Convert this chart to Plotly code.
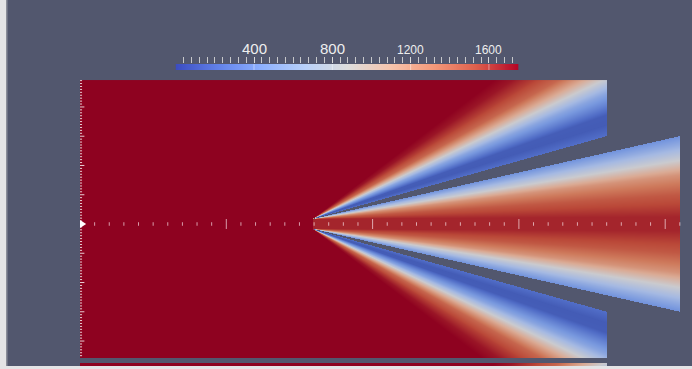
import numpy as np
import plotly.graph_objects as go

# ---------------------------------------------------------------------------
# Geometry of the mixing section (length units)
# ---------------------------------------------------------------------------
X_LEFT = 0.0          # inlet plane
X_SPLIT = 15.9        # trailing edge of the splitter plates
SLOT_HALF = 0.34      # half height of the central slot at the trailing edge
X_BLOCK_END = 36.0    # outlet of the outer channels
X_JET_END = 41.0      # outlet of the central diffuser
WALL_END_HALF = 6.0   # |y| of the outer-channel inner wall at X_BLOCK_END
JET_END_HALF = 6.0    # |y| of the diffuser wall at X_JET_END
Y_TOP = 9.84
Y_BOTTOM = -9.16
STRIP = (-9.71, -9.535)   # edge of the mirrored copy below the domain

# ---------------------------------------------------------------------------
# Temperature data
# ---------------------------------------------------------------------------
T_MIN, T_MAX = 0, 1750
T_HOT = 1750
# outer channels: profile across the thermal layer growing from the splitter wall
BLOCK_ETA = [0.0, 0.08, 0.15, 0.22, 0.30, 0.40, 0.48, 0.59, 0.72, 0.86, 1.0]
BLOCK_T = [230, 140, 150, 330, 520, 850, 1100, 1400, 1560, 1690, 1750]
BLOCK_SPREAD = 0.48
# central diffuser: profile from the wall towards the core
JET_ETA = [0.0, 0.12, 0.33, 0.53, 0.80, 1.10]
JET_T = [400, 560, 875, 1200, 1460, 1640]
JET_SPREAD = 0.20

# colour bar ticks and labels
CB_MAJOR = [400, 800, 1200, 1600]
CB_LABELS = ["400", "800", "1200", "1600"]
CB_LABEL_SIZE = [15, 15, 12, 12]
CB_MINOR = list(range(40, 1721, 40))

# ruler ticks
X_RULER_MINOR = list(range(1, 42))
X_RULER_MAJOR = [10, 20, 30, 40]
Y_RULER_MINOR = [round(v, 1) for v in np.arange(-9.0, 9.81, 0.2)]
Y_RULER_MAJOR = [-8, -6, -4, -2, 2, 4, 6, 8]

# colour maps: Cool to Warm, and its shaded version on the surface
COOL_WARM = [
    (0.0, (59, 76, 192)), (0.125, (98, 130, 234)), (0.25, (141, 176, 254)),
    (0.375, (184, 208, 249)), (0.5, (221, 221, 221)), (0.625, (245, 196, 173)),
    (0.75, (244, 154, 123)), (0.875, (222, 96, 77)), (1.0, (180, 4, 38)),
]
COOL_WARM_LIT = [
    (0.0, (45, 62, 152)), (0.125, (80, 108, 198)), (0.25, (120, 152, 222)),
    (0.375, (165, 185, 226)), (0.5, (202, 202, 206)), (0.625, (218, 170, 148)),
    (0.75, (206, 122, 92)), (0.875, (186, 72, 56)), (1.0, (142, 2, 32)),
]


def scale(stops):
    return [[t, "rgb(%d,%d,%d)" % c] for t, c in stops]


# ---------------------------------------------------------------------------
# Field evaluation
# ---------------------------------------------------------------------------
PX = 14.63            # screen pixels per length unit
du = 1.0 / PX


def temperature(X, Y):
    A = np.abs(Y)
    s = np.clip(X - X_SPLIT, 0, None)
    wall = SLOT_HALF + (WALL_END_HALF - SLOT_HALF) * s / (X_BLOCK_END - X_SPLIT)
    edge = SLOT_HALF + (JET_END_HALF - SLOT_HALF) * s / (X_JET_END - X_SPLIT)
    T = np.full(X.shape, np.nan)
    inside = (Y >= Y_BOTTOM) & (Y <= Y_TOP)
    left = inside & (X < X_SPLIT) & (X <= X_BLOCK_END)
    T[left] = T_HOT
    blk = inside & (X >= X_SPLIT) & (X <= X_BLOCK_END) & (A >= wall)
    eta_b = (A - wall) / (BLOCK_SPREAD * np.maximum(s, 1e-6))
    T[blk] = np.interp(eta_b[blk], BLOCK_ETA, BLOCK_T)
    jet = (X >= X_SPLIT) & (X <= X_JET_END) & (A <= edge)
    eta_j = (edge - A) / (JET_SPREAD * np.maximum(s, 1e-6))
    T[jet] = np.interp(eta_j[jet], JET_ETA, JET_T)
    return T


xs = np.arange(X_LEFT + du / 2, X_JET_END, du)
ys = np.arange(STRIP[0] + du / 2, Y_TOP, du)
X, Y = np.meshgrid(xs, ys)
T = temperature(X, Y)
strip = (Y >= STRIP[0]) & (Y <= STRIP[1]) & (X <= X_BLOCK_END)
T_strip = temperature(X, Y_TOP - (STRIP[1] - Y))
T[strip] = T_strip[strip]

fig = go.Figure()
fig.add_trace(go.Heatmap(
    x=xs, y=ys, z=T, colorscale=scale(COOL_WARM_LIT), zmin=T_MIN, zmax=T_MAX,
    showscale=False, hoverinfo="skip", zsmooth=False,
))

# colour bar drawn as its own strip
cb_x = np.linspace(T_MIN, T_MAX, 351)
fig.add_trace(go.Heatmap(
    x=cb_x, y=[0], z=[cb_x], colorscale=scale(COOL_WARM), zmin=T_MIN, zmax=T_MAX,
    showscale=False, hoverinfo="skip", xaxis="x2", yaxis="y2",
))

W, H = 692, 369
BG = "#52576e"
x_lo, x_hi = -80 / PX, (W - 80) / PX
y_lo, y_hi = (224 - H) / PX, 224 / PX

shapes = []
tick_col = "rgba(255,240,245,0.65)"
# ruler along the centre line
for v in X_RULER_MINOR:
    half = 0.34 if v in X_RULER_MAJOR else 0.12
    shapes.append(dict(type="line", xref="x", yref="y", x0=v, x1=v, y0=-half, y1=half,
                       line=dict(color=tick_col, width=1)))
# ruler along the inlet plane
for v in Y_RULER_MINOR:
    ln = 0.3 if v in Y_RULER_MAJOR else 0.14
    shapes.append(dict(type="line", xref="x", yref="y", x0=0, x1=ln, y0=v, y1=v,
                       line=dict(color="rgba(255,255,255,0.8)", width=1)))
shapes.append(dict(type="path", xref="x", yref="y",
                   path="M 0 0.28 L 0.42 0 L 0 -0.28 Z",
                   fillcolor="white", line=dict(width=0)))
# major ticks continue through the colour bar
for v in CB_MAJOR:
    shapes.append(dict(type="line", xref="x2", yref="y2 domain", x0=v, x1=v, y0=0, y1=1,
                       line=dict(color="rgba(255,255,255,0.45)", width=1)))
# window frame
shapes.append(dict(type="rect", xref="paper", yref="paper", x0=0, x1=6 / W, y0=0, y1=1,
                   fillcolor="#e4e4e6", line=dict(width=0)))
shapes.append(dict(type="rect", xref="paper", yref="paper", x0=6 / W, x1=7.5 / W, y0=0, y1=1,
                   fillcolor="#8a8d99", line=dict(width=0)))
shapes.append(dict(type="rect", xref="paper", yref="paper", x0=0, x1=1, y0=0, y1=3 / H,
                   fillcolor="#e4e4e6", line=dict(width=0)))

annotations = []
for v, lab, fs in zip(CB_MAJOR, CB_LABELS, CB_LABEL_SIZE):
    yc = 48.7 if fs >= 15 else 50.0
    annotations.append(dict(x=v, xref="x2", y=1 - yc / H, yref="paper", text=lab,
                            showarrow=False, xanchor="center", yanchor="middle",
                            font=dict(family="Liberation Sans", size=fs, color="#eeeeee")))

fig.update_layout(
    width=W, height=H, margin=dict(l=0, r=0, t=0, b=0),
    paper_bgcolor=BG, plot_bgcolor=BG, showlegend=False,
    xaxis=dict(range=[x_lo, x_hi], visible=False, domain=[0, 1], fixedrange=True),
    yaxis=dict(range=[y_lo, y_hi], visible=False, domain=[0, 1], fixedrange=True),
    xaxis2=dict(domain=[175.7 / W, 518.3 / W], anchor="y2", range=[T_MIN, T_MAX],
                side="top", ticks="outside", ticklen=6, tickwidth=1,
                tickcolor="rgba(220,220,220,0.85)", tickmode="array", tickvals=CB_MAJOR,
                showticklabels=False, showgrid=False, zeroline=False, showline=False,
                minor=dict(ticks="outside", ticklen=6, tickwidth=1, tickmode="array",
                           tickvals=CB_MINOR, tickcolor="rgba(220,220,220,0.85)",
                           showgrid=False)),
    yaxis2=dict(domain=[1 - 70 / H, 1 - 64 / H], anchor="x2", range=[-0.5, 0.5],
                visible=False),
    shapes=shapes, annotations=annotations,
)

fig.write_html("out.html")
